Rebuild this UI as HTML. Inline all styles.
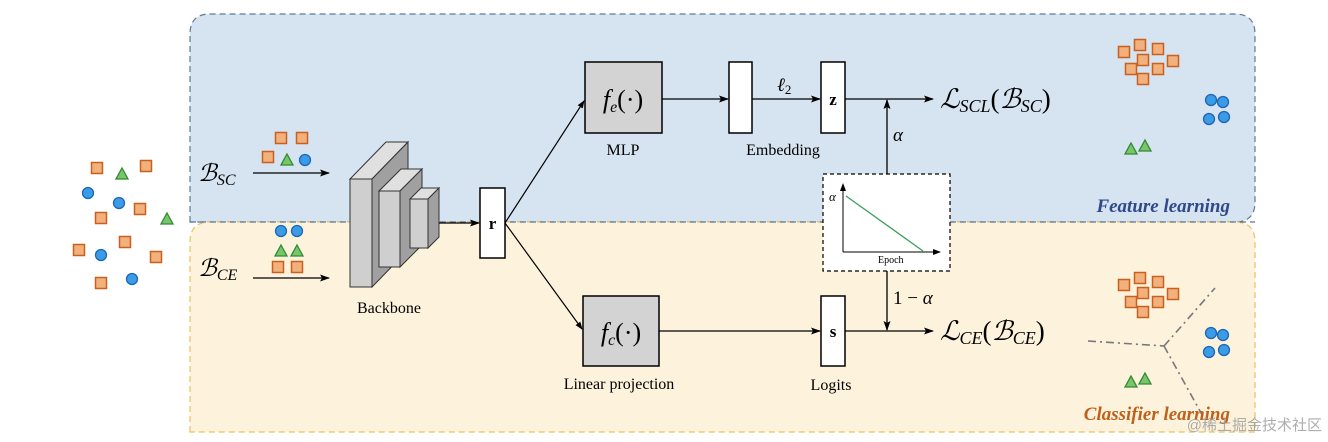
<!DOCTYPE html>
<html><head><meta charset="utf-8"><style>
html,body{margin:0;padding:0;background:#fff;}
svg{display:block;}
text{font-family:"Liberation Serif","Noto Serif CJK SC",serif;}
</style></head><body>
<svg width="1328" height="442" viewBox="0 0 1328 442" xmlns="http://www.w3.org/2000/svg">
<defs>
<marker id="ar" markerWidth="10" markerHeight="8" refX="9" refY="4" orient="auto" markerUnits="userSpaceOnUse"><path d="M0,0.5 L10,4 L0,7.5 L2,4z" fill="#000"/></marker>
<marker id="ar2" markerWidth="8" markerHeight="6" refX="7" refY="3" orient="auto" markerUnits="userSpaceOnUse"><path d="M0,0 L8,3 L0,6z" fill="#000"/></marker>
<g id="sq"><rect x="-5.5" y="-5.5" width="11" height="11" fill="#f2b07c" stroke="#c8611f" stroke-width="1.5"/></g>
<g id="ci"><circle r="5.5" fill="#3a9be6" stroke="#1f66b3" stroke-width="1.3"/></g>
<g id="tr"><path d="M0,-6 L6,5 L-6,5z" fill="#79c56a" stroke="#2f8a32" stroke-width="1.3"/></g>
</defs>
<path d="M190,222 L190,34 Q190,14 210,14 L1235,14 Q1255,14 1255,34 L1255,202 Q1255,222 1235,222 Z" fill="#d6e3f0" stroke="#60779a" stroke-width="1.2" stroke-dasharray="6,4"/>
<path d="M190,432 L190,242 Q190,222 210,222 L1235,222 Q1255,222 1255,242 L1255,432 Z" fill="#fdf3dd" stroke="#e9c25c" stroke-width="1.2" stroke-dasharray="6,4"/>
<line x1="190" y1="222" x2="1255" y2="222" stroke="#60779a" stroke-width="1.2" stroke-dasharray="6,4"/>

<use href="#sq" x="97" y="168"/><use href="#sq" x="146" y="166"/><use href="#sq" x="140" y="209"/><use href="#sq" x="101" y="218"/><use href="#sq" x="125" y="242"/><use href="#sq" x="79" y="250"/><use href="#sq" x="156" y="257"/><use href="#sq" x="101" y="283"/>
<use href="#tr" x="122" y="174"/><use href="#tr" x="167" y="219"/>
<use href="#ci" x="88" y="193"/><use href="#ci" x="119" y="203"/><use href="#ci" x="101" y="255"/><use href="#ci" x="132" y="279"/>

<use href="#sq" x="281" y="138"/><use href="#sq" x="302" y="138"/><use href="#sq" x="268" y="157"/><use href="#tr" x="287" y="160"/><use href="#ci" x="305" y="160"/>
<use href="#ci" x="281" y="231"/><use href="#ci" x="297" y="231"/><use href="#tr" x="281" y="251"/><use href="#tr" x="297" y="251"/><use href="#sq" x="278" y="267"/><use href="#sq" x="297" y="267"/>
<text x="198" y="181" font-size="24" font-style="italic">ℬ<tspan font-size="16" dy="4">SC</tspan></text>
<text x="198" y="276" font-size="24" font-style="italic">ℬ<tspan font-size="16" dy="4">CE</tspan></text>
<line x1="253" y1="173" x2="329" y2="173" stroke="#000" stroke-width="1.3" marker-end="url(#ar)"/>
<line x1="253" y1="278" x2="329" y2="278" stroke="#000" stroke-width="1.3" marker-end="url(#ar)"/>

<g stroke="#333" stroke-width="1">
<path d="M350,179 L386,142 L408,142 L372,179z" fill="#e0e0e0"/>
<path d="M372,179 L408,142 L408,250 L372,287z" fill="#a0a0a0"/>
<rect x="350" y="179" width="22" height="108" fill="#cfcfcf"/>
<path d="M379,191 L401,169 L422,169 L400,191z" fill="#e0e0e0"/>
<path d="M400,191 L422,169 L422,245 L400,267z" fill="#a0a0a0"/>
<rect x="379" y="191" width="21" height="76" fill="#cfcfcf"/>
<path d="M410,199 L421,188 L439,188 L428,199z" fill="#e0e0e0"/>
<path d="M428,199 L439,188 L439,237 L428,248z" fill="#a0a0a0"/>
<rect x="410" y="199" width="18" height="49" fill="#cfcfcf"/>
</g>
<text x="357" y="313" font-size="16">Backbone</text>
<line x1="439" y1="223" x2="479" y2="223" stroke="#000" stroke-width="1.3" marker-end="url(#ar)"/>
<rect x="480" y="188" width="25" height="70" fill="#fff" stroke="#000" stroke-width="1.5"/>
<text x="492.5" y="229" font-size="17" font-weight="bold" text-anchor="middle">r</text>
<line x1="505" y1="223" x2="584" y2="101" stroke="#000" stroke-width="1.2" marker-end="url(#ar2)"/>
<line x1="505" y1="223" x2="582" y2="329" stroke="#000" stroke-width="1.2" marker-end="url(#ar2)"/>

<rect x="585" y="62" width="77" height="71" fill="#d3d3d3" stroke="#000" stroke-width="1.5"/>
<text x="623" y="108" font-size="26" text-anchor="middle" font-style="italic">f<tspan font-size="16" dy="4">e</tspan><tspan dy="-4" font-style="normal">(·)</tspan></text>
<text x="623" y="155" font-size="16" text-anchor="middle">MLP</text>
<line x1="662" y1="99" x2="728" y2="99" stroke="#000" stroke-width="1.3" marker-end="url(#ar)"/>
<rect x="729" y="62" width="23" height="71" fill="#fff" stroke="#000" stroke-width="1.5"/>
<text x="783" y="155" font-size="16" text-anchor="middle">Embedding</text>
<line x1="752" y1="99" x2="820" y2="99" stroke="#000" stroke-width="1.3" marker-end="url(#ar)"/>
<text x="777" y="91" font-size="19" font-style="italic">ℓ<tspan font-size="13" dy="3" font-style="normal">2</tspan></text>
<rect x="821" y="62" width="24" height="71" fill="#fff" stroke="#000" stroke-width="1.5"/>
<text x="833" y="105" font-size="17" font-weight="bold" text-anchor="middle">z</text>
<line x1="845" y1="99" x2="933" y2="99" stroke="#000" stroke-width="1.3" marker-end="url(#ar)"/>
<line x1="887" y1="174" x2="887" y2="100" stroke="#000" stroke-width="1.3" marker-end="url(#ar)"/>
<text x="893" y="141" font-size="19" font-style="italic">α</text>
<text x="940" y="108" font-size="27" font-style="italic">ℒ<tspan font-size="18" dy="4">SCL</tspan><tspan dy="-4" font-style="normal">(</tspan>ℬ<tspan font-size="18" dy="4">SC</tspan><tspan dy="-4" font-style="normal">)</tspan></text>

<rect x="823" y="174" width="127" height="97" fill="#fff" stroke="#000" stroke-width="1.2" stroke-dasharray="4,3"/>
<line x1="843" y1="252" x2="843" y2="184" stroke="#000" stroke-width="1" marker-end="url(#ar2)"/>
<line x1="843" y1="252" x2="940" y2="252" stroke="#000" stroke-width="1" marker-end="url(#ar2)"/>
<line x1="846" y1="196" x2="923" y2="251" stroke="#3aa05a" stroke-width="1.3"/>
<text x="829" y="201" font-size="13" font-style="italic">α</text>
<text x="878" y="263" font-size="10">Epoch</text>

<rect x="583" y="296" width="76" height="70" fill="#d3d3d3" stroke="#000" stroke-width="1.5"/>
<text x="621" y="341" font-size="26" text-anchor="middle" font-style="italic">f<tspan font-size="16" dy="4">c</tspan><tspan dy="-4" font-style="normal">(·)</tspan></text>
<text x="619" y="389" font-size="16" text-anchor="middle">Linear  projection</text>
<line x1="659" y1="331" x2="820" y2="331" stroke="#000" stroke-width="1.3" marker-end="url(#ar)"/>
<rect x="821" y="296" width="24" height="70" fill="#fff" stroke="#000" stroke-width="1.5"/>
<text x="833" y="337" font-size="17" font-weight="bold" text-anchor="middle">s</text>
<text x="831" y="390" font-size="16" text-anchor="middle">Logits</text>
<line x1="845" y1="331" x2="933" y2="331" stroke="#000" stroke-width="1.3" marker-end="url(#ar)"/>
<line x1="887" y1="271" x2="887" y2="330" stroke="#000" stroke-width="1.3" marker-end="url(#ar)"/>
<text x="893" y="304" font-size="19">1 − <tspan font-style="italic">α</tspan></text>
<text x="940" y="340" font-size="27" font-style="italic">ℒ<tspan font-size="18" dy="4">CE</tspan><tspan dy="-4" font-style="normal">(</tspan>ℬ<tspan font-size="18" dy="4">CE</tspan><tspan dy="-4" font-style="normal">)</tspan></text>

<g id="cl">
<use href="#sq" x="1124" y="52"/><use href="#sq" x="1140" y="45"/><use href="#sq" x="1158" y="49"/><use href="#sq" x="1143" y="60"/><use href="#sq" x="1173" y="61"/><use href="#sq" x="1131" y="69"/><use href="#sq" x="1158" y="69"/><use href="#sq" x="1143" y="79"/>
<use href="#ci" x="1211" y="100"/><use href="#ci" x="1223" y="102"/><use href="#ci" x="1209" y="119"/><use href="#ci" x="1224" y="117"/>
<use href="#tr" x="1131" y="149"/><use href="#tr" x="1145" y="146"/>
</g>
<use href="#cl" x="0" y="233"/>
<g stroke="#777" stroke-width="1.6" stroke-dasharray="8,4,2,4" fill="none">
<line x1="1088" y1="341" x2="1164" y2="346"/>
<line x1="1164" y1="346" x2="1215" y2="288"/>
<line x1="1164" y1="346" x2="1205" y2="420"/>
</g>
<text x="1230" y="212" font-size="19" font-weight="bold" font-style="italic" fill="#2f4a8a" text-anchor="end">Feature learning</text>
<text x="1230" y="420" font-size="19" font-weight="bold" font-style="italic" fill="#c0601a" text-anchor="end">Classifier learning</text>
<text x="1322" y="430" font-size="15" fill="#999" text-anchor="end" style="font-family:'Liberation Sans','Noto Sans CJK SC',sans-serif" opacity="0.8">@稀土掘金技术社区</text>
</svg>
</body></html>
